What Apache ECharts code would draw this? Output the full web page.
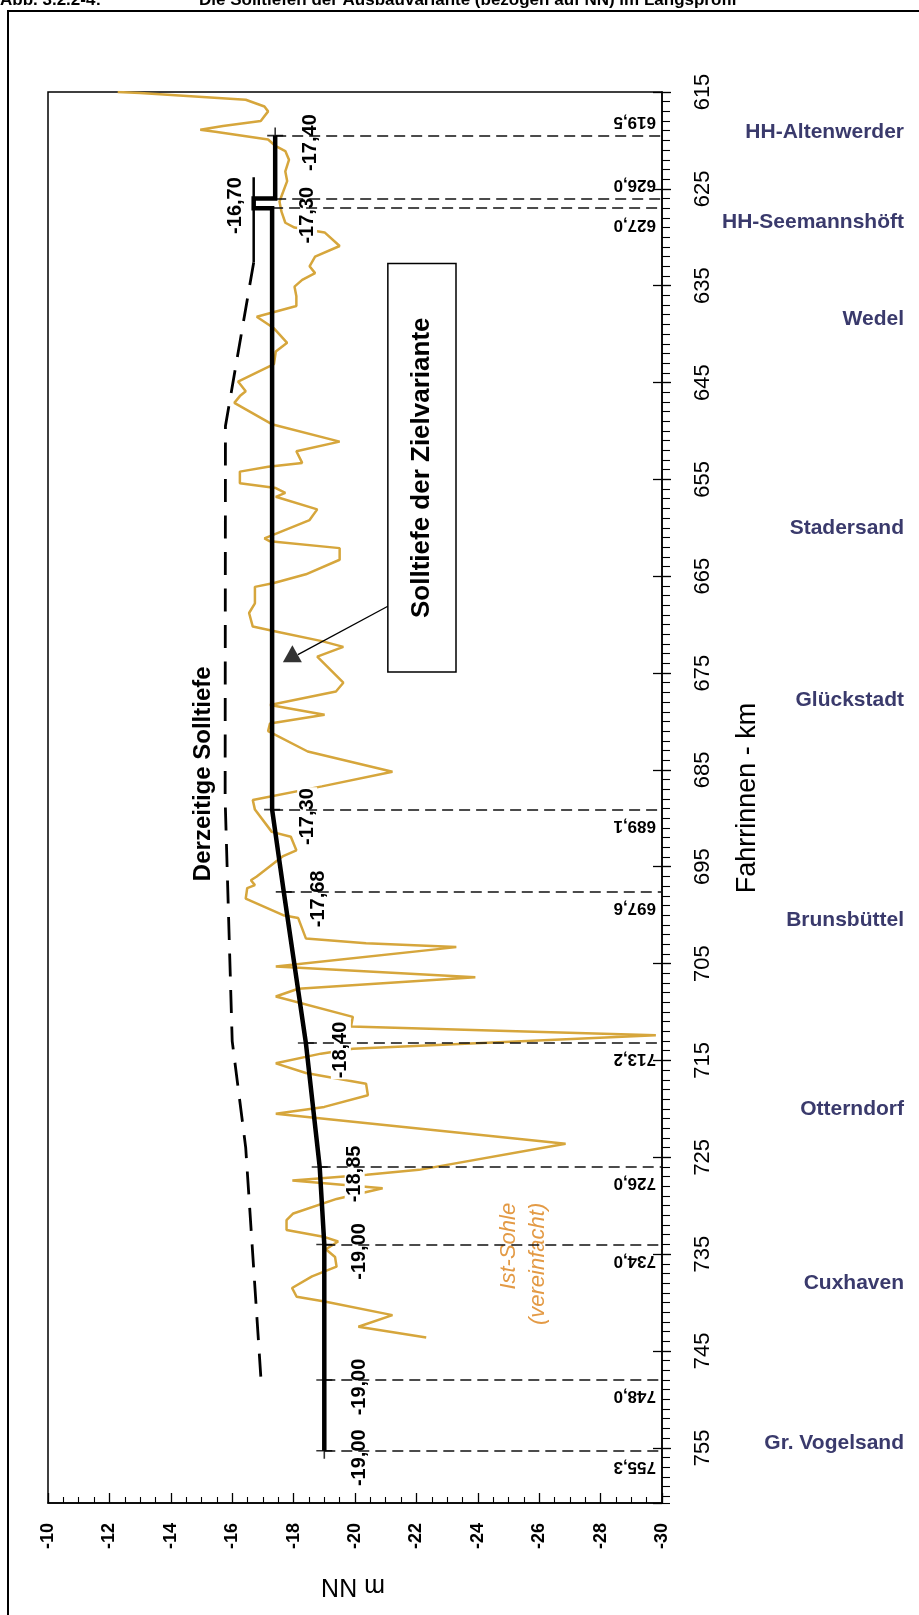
<!DOCTYPE html>
<html>
<head>
<meta charset="utf-8">
<script src="https://cdn.jsdelivr.net/npm/echarts@6/dist/echarts.min.js"></script>
<style>
  html, body { margin: 0; padding: 0; background: #fff; }
  #chart { width: 919px; height: 1615px; }
</style>
</head>
<body>
<div id="chart"></div>
<script>
// Ist-Sohle (vereinfacht): Fahrrinnen-km / Tiefe m NN
const sohleKm = [615.0, 615.1, 615.8, 616.5, 617.0, 618.0, 618.5, 618.9, 619.1, 619.9,
  620.6, 621.1, 622.0, 623.2, 624.2, 625.3, 626.3, 627.3, 628.5, 629.0,
  629.5, 630.9, 632.0, 633.0, 633.7, 634.4, 635.1, 636.1, 637.1, 638.2,
  639.4, 640.9, 641.8, 643.1, 644.9, 645.9, 646.4, 647.1, 649.3, 651.1,
  652.1, 653.3, 653.7, 654.2, 655.4, 655.9, 656.4, 656.8, 658.1, 659.2,
  661.1, 661.4, 662.1, 663.3, 664.8, 665.7, 666.1, 667.8, 668.8, 670.2,
  670.7, 671.7, 672.3, 673.3, 676.0, 676.9, 678.3, 679.3, 680.2, 681.0,
  683.1, 685.2, 686.7, 688.1, 689.1, 691.4, 691.9, 693.3, 693.9, 696.0,
  696.4, 696.9, 697.2, 698.3, 700.0, 700.3, 702.4, 702.9, 703.3, 705.3,
  706.4, 707.6, 708.4, 710.5, 711.5, 712.4, 713.8, 714.3, 715.3, 716.3,
  717.4, 718.6, 719.8, 720.5, 723.6, 726.3, 726.8, 727.4, 728.2, 729.3,
  730.8, 731.5, 732.5, 733.2, 733.7, 734.5, 735.3, 736.3, 737.3, 738.5,
  739.4, 739.9, 741.3, 742.5, 743.6];
const sohleDepth = [-12.27, -13.00, -16.44, -17.05, -17.17, -16.93, -15.70, -14.96, -15.45, -17.17,
  -17.42, -17.73, -17.85, -17.73, -17.79, -17.66, -17.54, -17.60, -17.73, -18.03,
  -19.01, -19.50, -18.70, -18.52, -18.70, -18.28, -18.03, -18.09, -18.09, -16.80,
  -17.36, -17.79, -17.42, -17.36, -16.19, -16.44, -16.25, -16.07, -17.29, -19.50,
  -18.09, -18.28, -17.17, -16.25, -16.25, -17.42, -17.73, -17.42, -18.77, -18.52,
  -17.05, -17.23, -19.50, -19.50, -18.40, -17.36, -16.74, -16.74, -16.55, -16.67,
  -17.42, -18.92, -19.62, -18.77, -19.62, -19.38, -17.23, -19.01, -17.23, -17.17,
  -18.46, -21.22, -18.92, -16.67, -16.74, -17.29, -17.91, -18.09, -17.66, -16.80,
  -16.61, -16.74, -16.49, -16.44, -17.66, -18.15, -18.40, -20.36, -23.30, -17.42,
  -23.92, -18.15, -17.42, -19.93, -19.87, -29.80, -19.93, -18.89, -17.42, -18.40,
  -20.36, -20.42, -19.00, -17.42, -26.86, -22.08, -20.38, -17.96, -20.90, -19.40,
  -17.99, -17.77, -17.77, -18.97, -19.45, -19.05, -19.35, -19.40, -18.60, -17.95,
  -18.10, -19.01, -21.22, -20.11, -22.32];

// Solltiefe der Zielvariante
const zielKm = [619.5, 626.0, 626.0, 627.0, 627.0, 689.1, 697.6, 713.2, 726.0, 734.0, 748.0, 755.3];
const zielDepth = [-17.40, -17.40, -16.70, -16.70, -17.30, -17.30, -17.68, -18.40, -18.85, -19.00, -19.00, -19.00];

// Derzeitige Solltiefe
const derzeitSolidKm = [623.8, 632.6];
const derzeitSolidDepth = [-16.70, -16.70];
const derzeitKm = [632.6, 649.5, 688.0, 713.0, 724.0, 749.0];
const derzeitDepth = [-16.70, -15.78, -15.77, -16.00, -16.44, -16.96];

// Stationen mit Solltiefe
const stationKm = [619.5, 626.0, 627.0, 689.1, 697.6, 713.2, 726.0, 734.0, 748.0, 755.3];
const stationDepth = [-17.40, -16.70, -17.30, -17.30, -17.68, -18.40, -18.85, -19.00, -19.00, -19.00];
const crossKm = [619.5, 689.1, 697.6, 713.2, 726.0, 734.0, 748.0, 755.3];
const crossDepth = [-17.40, -17.30, -17.68, -18.40, -18.85, -19.00, -19.00, -19.00];

// Orte
const places = ['HH-Altenwerder', 'HH-Seemannshöft', 'Wedel', 'Stadersand', 'Glückstadt',
  'Brunsbüttel', 'Otterndorf', 'Cuxhaven', 'Gr. Vogelsand'];
const placeKm = [619.1, 628.4, 638.5, 660.0, 677.8, 700.5, 720.0, 738.0, 754.5];

const FONT = '"Liberation Sans", Arial, sans-serif';
const pairs = (km, depth) => km.map((k, i) => [depth[i], k]);
const comma = (v, n) => v.toFixed(n).replace('.', ',');
const leftLabelKm = [626.0];
const aboveLabelKm = [619.5, 626.0];

const chart = echarts.init(document.getElementById('chart'));

const kmAxisBase = {
    type: 'value', min: 615, max: 760.7, inverse: true, position: 'right',
    splitLine: { show: false }
};

chart.setOption({
    animation: false,
    grid: { left: 48, right: 257, top: 92, bottom: 112, show: true, borderColor: '#000', borderWidth: 1.5 },
    xAxis: {
        type: 'value', min: -30, max: -10, interval: 2, inverse: true, position: 'bottom',
        axisLine: { show: true, lineStyle: { color: '#000', width: 1.5 } },
        axisTick: { show: true, inside: true, length: 10, lineStyle: { color: '#000', width: 1.3 } },
        minorTick: { show: true, splitNumber: 4, length: 6, lineStyle: { color: '#000', width: 1.1 } },
        splitLine: { show: false },
        axisLabel: {
            rotate: 90, margin: 20, color: '#000', fontSize: 18, fontWeight: 'bold', fontFamily: FONT,
            align: 'right', verticalAlign: 'middle'
        }
    },
    yAxis: [
        Object.assign({}, kmAxisBase, {
            interval: 10,
            axisLine: { show: true, lineStyle: { color: '#000', width: 1.5 } },
            axisTick: { show: true, inside: false, length: 9, lineStyle: { color: '#000', width: 1.3 } },
            axisLabel: {
                rotate: 90, margin: 30, color: '#000', fontSize: 22, fontFamily: FONT,
                align: 'center', verticalAlign: 'top', showMaxLabel: false
            }
        }),
        // inner half of the major km ticks
        Object.assign({}, kmAxisBase, {
            interval: 10,
            axisLine: { show: false },
            axisTick: { show: true, inside: true, length: 9, lineStyle: { color: '#000', width: 1.3 } },
            axisLabel: { show: false }
        }),
        // 1-km ticks
        Object.assign({}, kmAxisBase, {
            interval: 1,
            axisLine: { show: false },
            axisTick: { show: true, inside: false, length: 8, lineStyle: { color: '#000', width: 1.1 } },
            axisLabel: { show: false }
        })
    ],
    series: [
        {
            name: 'Ist-Sohle', type: 'line', z: 2,
            data: pairs(sohleKm, sohleDepth),
            showSymbol: false, symbol: 'none',
            lineStyle: { color: '#d6a63c', width: 2.5 }
        },
        {
            name: 'Derzeitige Solltiefe (Abschnitt)', type: 'line', z: 4,
            data: pairs(derzeitSolidKm, derzeitSolidDepth),
            symbol: 'none', lineStyle: { color: '#000', width: 2.5 }
        },
        {
            name: 'Derzeitige Solltiefe', type: 'line', z: 4,
            data: pairs(derzeitKm, derzeitDepth),
            symbol: 'none', lineStyle: { color: '#000', width: 2.8, type: [23, 13.5] }
        },
        {
            name: 'Solltiefe der Zielvariante', type: 'line', z: 6,
            data: pairs(zielKm, zielDepth),
            symbol: 'none', lineStyle: { color: '#000', width: 4.5, cap: 'butt', join: 'miter' },
            markLine: {
                silent: true, symbol: 'none', label: { show: false },
                lineStyle: { color: '#111', width: 1.5, type: [11, 6] },
                data: stationKm.map((k, i) => [
                    { coord: [stationDepth[i] < -17 ? stationDepth[i] : -17.40, k] },
                    { coord: [-30, k] }
                ])
            }
        },
        {
            name: 'Stationen', type: 'scatter', z: 7,
            data: pairs(crossKm, crossDepth),
            symbol: 'path://M9,0h2v9h9v2h-9v9h-2v-9h-9v-2h9z', symbolSize: 16,
            itemStyle: { color: '#000' }
        },
        {
            name: 'Hinweis', type: 'scatter', z: 7,
            data: [[-17.96, 673.0]],
            symbol: 'triangle', symbolSize: [19, 17],
            itemStyle: { color: '#000' },
            markLine: {
                silent: true, symbol: 'none', label: { show: false },
                lineStyle: { color: '#000', width: 1.3, type: 'solid' },
                data: [[{ coord: [-21.07, 668.1] }, { coord: [-18.14, 673.1] }]]
            }
        }
    ]
});

const px = (d, k) => chart.convertToPixel({ xAxisIndex: 0, yAxisIndex: 0 }, [d, k]);
const axisRight = px(-30, 615)[0];
const elements = [];

function text(x, y, str, opts) {
    elements.push({
        type: 'text', x: x, y: y, silent: true, z: opts.z || 3,
        rotation: opts.rotation || 0,
        style: Object.assign({
            text: str, fill: '#000', fontFamily: FONT, fontSize: 18,
            align: 'center', verticalAlign: 'middle'
        }, opts.style)
    });
}

// outer frame and title (cut by the page edge)
elements.push({
    type: 'rect', silent: true, z: 1,
    shape: { x: 8, y: 11, width: 1000, height: 2000 },
    style: { fill: 'none', stroke: '#000', lineWidth: 2 }
});
text(0, -8, 'Abb. 3.2.2-4:', { style: { align: 'left', verticalAlign: 'top', fontSize: 17, fontWeight: 'bold' } });
text(199, -8, 'Die Solltiefen der Ausbauvariante (bezogen auf NN) im Längsprofil',
    { style: { align: 'left', verticalAlign: 'top', fontSize: 17, fontWeight: 'bold' } });

// axis names
text(748, 798, 'Fahrrinnen - km', { rotation: Math.PI / 2, style: { fontSize: 27 } });
text(353, 1586, 'm NN', { rotation: Math.PI, style: { fontSize: 25 } });

// depth values at the stations
stationKm.forEach((k, i) => {
    const p = px(stationDepth[i], k);
    const left = leftLabelKm.indexOf(k) >= 0;
    text(p[0] + (left ? -18 : 35), p[1] + 7, comma(stationDepth[i], 2), {
        rotation: Math.PI / 2,
        style: { fontSize: 20, fontWeight: 'bold', backgroundColor: '#fff', padding: [0, 1] }
    });
    const above = aboveLabelKm.indexOf(k) >= 0;
    text(axisRight - 6, p[1] + (above ? -14 : 16), comma(k, 1), {
        rotation: Math.PI,
        style: { fontSize: 17, fontWeight: 'bold', align: 'left' }
    });
});

// place names
places.forEach((name, i) => {
    const y = px(-30, placeKm[i])[1];
    text(904, y, name, { style: { align: 'right', fontSize: 21, fontWeight: 'bold', fill: '#3a3a6c' } });
});

// box "Solltiefe der Zielvariante"
const b0 = px(-21.07, 632.7), b1 = px(-23.29, 674.9);
elements.push({
    type: 'rect', silent: true, z: 3,
    shape: { x: b0[0], y: b0[1], width: b1[0] - b0[0], height: b1[1] - b0[1] },
    style: { fill: '#fff', stroke: '#000', lineWidth: 1.5 }
});
const bt = px(-22.17, 653.8);
text(bt[0], bt[1], 'Solltiefe der Zielvariante',
    { rotation: Math.PI / 2, z: 4, style: { fontSize: 26, fontWeight: 'bold' } });

const dt = px(-15.07, 685.4);
text(dt[0], dt[1], 'Derzeitige Solltiefe', { rotation: Math.PI / 2, style: { fontSize: 24, fontWeight: 'bold' } });

const it = px(-24.53, 729.7);
text(it[0], it[1], 'Ist-Sohle\n(vereinfacht)', {
    rotation: Math.PI / 2,
    style: { fontSize: 22, fontStyle: 'italic', fill: '#e39a45', align: 'right', verticalAlign: 'top', lineHeight: 29 }
});

chart.setOption({ graphic: { elements: elements } });
</script>
</body>
</html>
